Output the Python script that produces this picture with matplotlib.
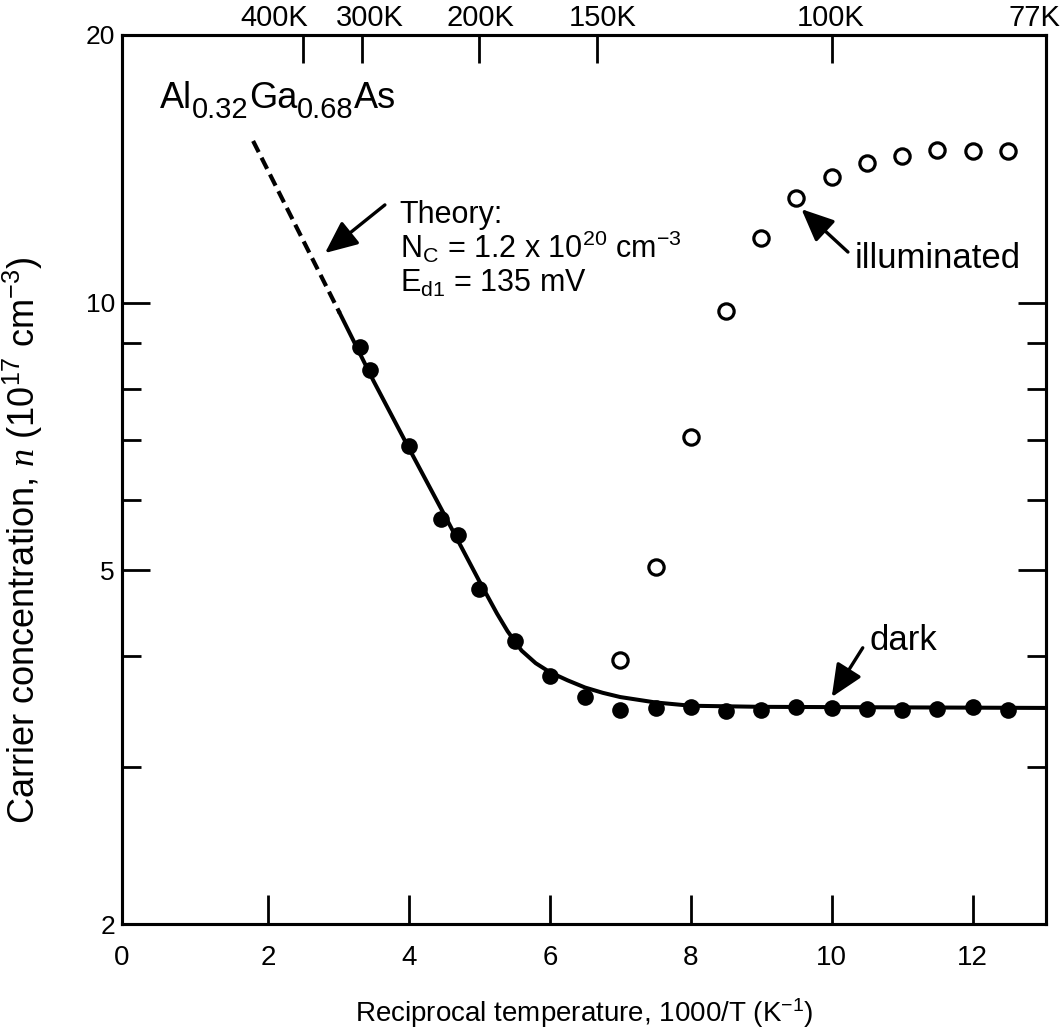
import matplotlib
matplotlib.use('Agg')
import matplotlib.pyplot as plt
import matplotlib.transforms as mtransforms

plt.rcParams['font.family'] = ['Liberation Sans', 'DejaVu Sans']
plt.rcParams['mathtext.fontset'] = 'custom'
plt.rcParams['mathtext.rm'] = 'Liberation Sans'
plt.rcParams['mathtext.it'] = 'Liberation Serif:italic'
plt.rcParams['mathtext.default'] = 'regular'

# data (x = 1000/T, y = n in 1e17 cm^-3)
dark_x = [3.3, 3.45, 4.0, 4.45, 4.7, 5.0, 5.5, 6.0, 6.5, 7.0, 7.5, 8.0, 8.5, 9.0, 9.5, 10.0, 10.5, 11.0, 11.5, 12.0, 12.5]
dark_y = [8.91, 8.40, 6.90, 5.71, 5.48, 4.76, 4.16, 3.80, 3.60, 3.48, 3.50, 3.51, 3.47, 3.48, 3.51, 3.50, 3.49, 3.48, 3.49, 3.51, 3.48]

illum_x = [7.0, 7.5, 8.0, 8.5, 9.0, 9.5, 10.0, 10.5, 11.0, 11.5, 12.0, 12.5]
illum_y = [3.96, 5.04, 7.06, 9.78, 11.82, 13.11, 13.84, 14.36, 14.62, 14.84, 14.80, 14.80]

# theory curve (solid part) and its dashed extension
fit_x = [3.02, 3.5, 4.0, 4.5, 5.0, 5.25, 5.4, 5.6, 5.8, 6.0, 6.25, 6.5, 6.75, 7.0, 7.5, 8.0, 9.0, 13.04]
fit_y = [9.73, 8.16, 6.86, 5.78, 4.86, 4.47, 4.27, 4.06, 3.93, 3.84, 3.76, 3.69, 3.64, 3.60, 3.55, 3.52, 3.51, 3.50]
extrap_x = [1.79, 3.02]
extrap_y = [15.2, 9.73]

x_ticks = [2, 4, 6, 8, 10, 12]
temps = [400, 300, 200, 150, 100]
temp_labels = ['400K', '300K', '200K', '150K', '100K', '77K']
temp_label_x = [2.085, 3.45, 5.02, 6.75, 9.99, 12.88]

fig = plt.figure(figsize=(10.63, 10.33), dpi=100)
ax = fig.add_axes([122/1063, 1-924/1033, 924/1063, 889/1033])

ax.plot(fit_x, fit_y, color='k', lw=2.9, solid_joinstyle='round', zorder=2)
ax.plot(extrap_x, extrap_y, color='k', lw=3.0, ls=(0, (3.0, 1.5)), zorder=2)
ax.plot(dark_x, dark_y, 'o', color='k', ms=12, mew=0, zorder=3)
ax.plot(illum_x, illum_y, 'o', mfc='white', mec='k', ms=11, mew=2.3, zorder=3)

ax.set_yscale('log')
ax.set_xlim(-0.07, 13.04)
ax.set_ylim(2, 20)
ax.set_xticks(x_ticks)
ax.set_yticks([2, 5, 10, 20])
ax.set_yticklabels(['2', '5', '10', '20'])
ax.set_yticks([3, 4, 6, 7, 8, 9], minor=True)
ax.yaxis.set_minor_formatter(matplotlib.ticker.NullFormatter())
ax.tick_params(axis='x', direction='in', length=21, width=2, pad=15, labelsize=20, top=False)
ax.tick_params(axis='y', which='major', direction='in', length=20, width=2, pad=5,
               labelsize=19, left=True, right=True)
ax.tick_params(axis='y', which='minor', direction='in', length=14, width=2, left=True, right=True)
for s in ax.spines.values():
    s.set_linewidth(2.2)
# "0" sits on the left spine, without its own tick mark
ax.annotate('0', xy=(-0.07, 0), xycoords=mtransforms.blended_transform_factory(ax.transData, ax.transAxes),
            xytext=(0, -15), textcoords='offset points', fontsize=20, ha='center', va='top')

# temperature scale on top
ax2 = ax.twiny()
ax2.set_xlim(ax.get_xlim())
ax2.set_xticks([1000 / t for t in temps])
ax2.set_xticklabels([])
ax2.tick_params(axis='x', direction='in', length=20, width=2)
for s in ax2.spines.values():
    s.set_linewidth(2.2)
trans = mtransforms.blended_transform_factory(ax.transData, ax.transAxes)
for xl, lab in zip(temp_label_x, temp_labels):
    ax.text(xl, 1.0101, lab, transform=trans, fontsize=21, ha='center', va='baseline')

ax.set_xlabel('Reciprocal temperature, 1000/T (K$^{-1}$)', fontsize=20, labelpad=18)
ax.set_ylabel('Carrier concentration, $\\mathit{n}$ (10$^{17}$ cm$^{-3}$)', fontsize=26)
ax.yaxis.set_label_coords(-0.083, 0.432)

# compound name with large subscripts
t = ax.text(0.47, 16.56, 'Al', fontsize=26, va='baseline')
for s, sub in [('0.32', True), ('Ga', False), ('0.68', True), ('As', False)]:
    t = ax.annotate(s, xy=(1, 0), xycoords=t, xytext=(0, -5.6 if sub else 5.6),
                    textcoords='offset points', fontsize=21 if sub else 26,
                    ha='left', va='bottom')

ax.text(3.87, 12.29, 'Theory:', fontsize=22, va='baseline')
ax.text(3.87, 11.23, 'N$_C$ = 1.2 x 10$^{20}$ cm$^{-3}$', fontsize=22, va='baseline')
ax.text(3.87, 10.28, 'E$_{d1}$ = 135 mV', fontsize=22, va='baseline')
ax.text(10.33, 10.94, 'illuminated', fontsize=25, va='baseline')
ax.text(10.54, 4.07, 'dark', fontsize=25, va='baseline')

arrow = dict(arrowstyle='-|>,head_length=0.9,head_width=0.4', lw=2.4, color='k',
             shrinkA=0, shrinkB=0, mutation_scale=22)
ax.annotate('', xy=(2.81, 11.37), xytext=(3.66, 12.88), arrowprops=arrow)
ax.annotate('', xy=(9.57, 12.74), xytext=(10.23, 11.40), arrowprops=arrow)
ax.annotate('', xy=(10.0, 3.60), xytext=(10.44, 4.09), arrowprops=arrow)

fig.savefig('out.png', dpi=100)
